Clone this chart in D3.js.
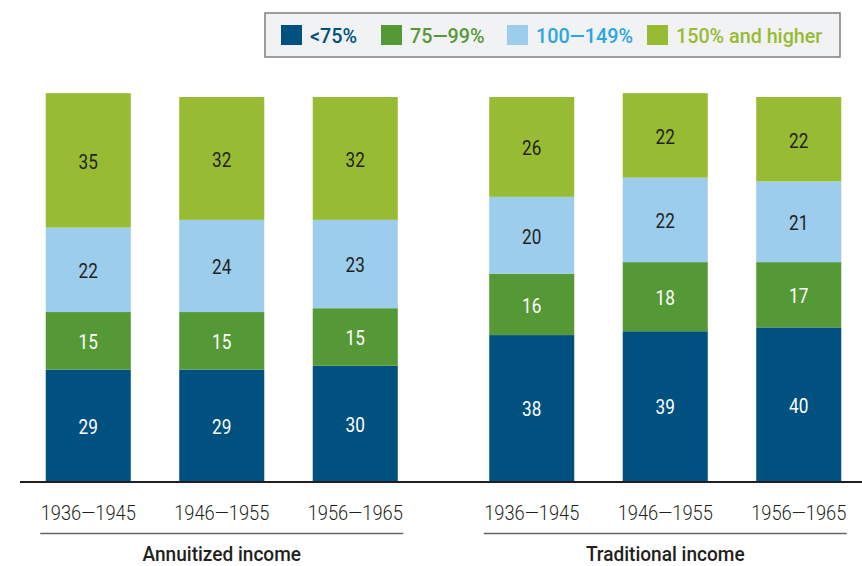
<!DOCTYPE html>
<html>
<head>
<meta charset="utf-8">
<script src="https://cdn.jsdelivr.net/npm/d3@7"></script>
<style>
  body { margin: 0; background: #fff; }
  svg { display: block; font-family: Roboto, "DejaVu Sans", sans-serif; }
</style>
</head>
<body>
<svg id="Chart"></svg>
<script>
let groups = ["Annuitized income", "Traditional income"];
let periods = ["1936\u20141945", "1946\u20141955", "1956\u20141965"];
let bands = ["<75%", "75\u201499%", "100\u2014149%", "150% and higher"];
let colors = ["#00517f", "#559937", "#9dcdec", "#97bb32"];
let legendTextColors = ["#00517f", "#559937", "#2ba6df", "#97bb32"];
let labelColors = ["#ffffff", "#ffffff", "#231f20", "#231f20"];

let annuitized = [
    [29, 15, 22, 35],
    [29, 15, 24, 32],
    [30, 15, 23, 32]
];
let traditional = [
    [38, 16, 20, 26],
    [39, 18, 22, 22],
    [40, 17, 21, 22]
];

function buildRows() {
    let sets = [annuitized, traditional];
    let rows = [];
    groups.forEach((g, gi) => {
        periods.forEach((p, pi) => {
            let row = { group: g, period: p };
            bands.forEach((b, bi) => row[b] = sets[gi][pi][bi]);
            rows.push(row);
        });
    });
    return rows;
}

// squeeze text horizontally, the original uses a condensed face
function condense(sel, k) {
    sel.each(function() {
        let t = d3.select(this);
        let x = +t.attr("x") || 0;
        let y = +t.attr("y") || 0;
        t.attr("x", 0).attr("y", 0)
            .attr("transform", `translate(${x},${y}) scale(${k},1)`);
    });
}

function getConfig() {
    let width = 862;
    let height = 566;
    let baseline = 481;
    let container = d3.select("#Chart")
        .attr("width", width)
        .attr("height", height);
    return { width, height, baseline, container };
}

function getScales(config) {
    let x0 = d3.scaleBand()
        .domain(groups)
        .range([0, 887]);

    // inner band per group, centred on the group band
    let x1 = g => {
        let c = x0(g) + x0.bandwidth() / 2;
        return d3.scaleBand()
            .domain(periods)
            .range([c - 200.25, c + 200.25])
            .paddingInner(0.363)
            .paddingOuter(0.1815);
    };

    let y = d3.scaleLinear()
        .domain([0, 100])
        .range([config.baseline, 97]);

    return { x0, x1, y };
}

function drawBars(rows, scales, config) {
    let { container } = config;
    let { x1, y } = scales;
    let series = d3.stack().keys(bands)(rows);

    let layers = container.append("g").selectAll("g")
        .data(series)
        .enter().append("g")
        .attr("fill", (d, i) => colors[i]);

    layers.selectAll("rect")
        .data(d => d)
        .enter().append("rect")
        .attr("x", d => x1(d.data.group)(d.data.period))
        .attr("width", d => x1(d.data.group).bandwidth())
        .attr("y", d => y(d[1]))
        .attr("height", d => y(d[0]) - y(d[1]));

    let labels = container.append("g").selectAll("g")
        .data(series)
        .enter().append("g")
        .attr("fill", (d, i) => labelColors[i]);

    labels.selectAll("text")
        .data(d => d.map(v => ({ v, key: d.key })))
        .enter().append("text")
        .attr("x", d => x1(d.v.data.group)(d.v.data.period) + x1(d.v.data.group).bandwidth() / 2)
        .attr("y", d => (y(d.v[0]) + y(d.v[1])) / 2 + 1.5)
        .attr("dy", "0.35em")
        .attr("text-anchor", "middle")
        .attr("font-size", 19.5)
        .attr("font-weight", 400)
        .text(d => d.v.data[d.key])
        .call(condense, 0.88);
}

function drawAxes(scales, config) {
    let { container, baseline } = config;
    let { x0, x1 } = scales;

    container.append("line")
        .attr("x1", 20).attr("x2", 862)
        .attr("y1", baseline + 1).attr("y2", baseline + 1)
        .attr("stroke", "#231f20")
        .attr("stroke-width", 2);

    groups.forEach(g => {
        let inner = x1(g);
        let axis = d3.axisBottom(inner).tickSize(0).tickPadding(0);
        let ax = container.append("g")
            .attr("transform", `translate(0,${baseline + 24})`)
            .call(axis);
        ax.select(".domain").remove();
        ax.selectAll("text")
            .attr("font-family", "Roboto, sans-serif")
            .attr("font-size", 21)
            .attr("font-weight", 300)
            .attr("fill", "#231f20")
            .attr("transform", "scale(0.87,1)");

        let c = x0(g) + x0.bandwidth() / 2;
        container.append("line")
            .attr("x1", c - 181.5).attr("x2", c + 181.5)
            .attr("y1", 533.5).attr("y2", 533.5)
            .attr("stroke", "#666")
            .attr("stroke-width", 1.5);

        container.append("text")
            .attr("x", c)
            .attr("y", 561)
            .attr("text-anchor", "middle")
            .attr("font-size", 20.5)
            .attr("font-weight", 500)
            .attr("fill", "#231f20")
            .text(g)
            .call(condense, 0.93);
    });
}

function drawLegend(config) {
    let { container } = config;
    let legend = container.append("g");

    legend.append("rect")
        .attr("x", 265).attr("y", 13)
        .attr("width", 575).attr("height", 44)
        .attr("fill", "#f1f2f4")
        .attr("stroke", "#7f7f7f")
        .attr("stroke-width", 1.5);

    let xs = [281, 381, 507, 647];
    let items = legend.selectAll("g.item")
        .data(bands)
        .enter().append("g")
        .attr("class", "item")
        .attr("transform", (d, i) => `translate(${xs[i]},25)`);

    items.append("rect")
        .attr("width", 21).attr("height", 20)
        .attr("fill", (d, i) => colors[i]);

    items.append("text")
        .attr("x", 29)
        .attr("y", 11)
        .attr("dy", "0.35em")
        .attr("font-size", 21)
        .attr("font-weight", 500)
        .attr("fill", (d, i) => legendTextColors[i])
        .text(d => d)
        .call(condense, 0.94);
}

function draw() {
    let rows = buildRows();
    let config = getConfig();
    let scales = getScales(config);
    drawBars(rows, scales, config);
    drawAxes(scales, config);
    drawLegend(config);
}

draw();
</script>
</body>
</html>
